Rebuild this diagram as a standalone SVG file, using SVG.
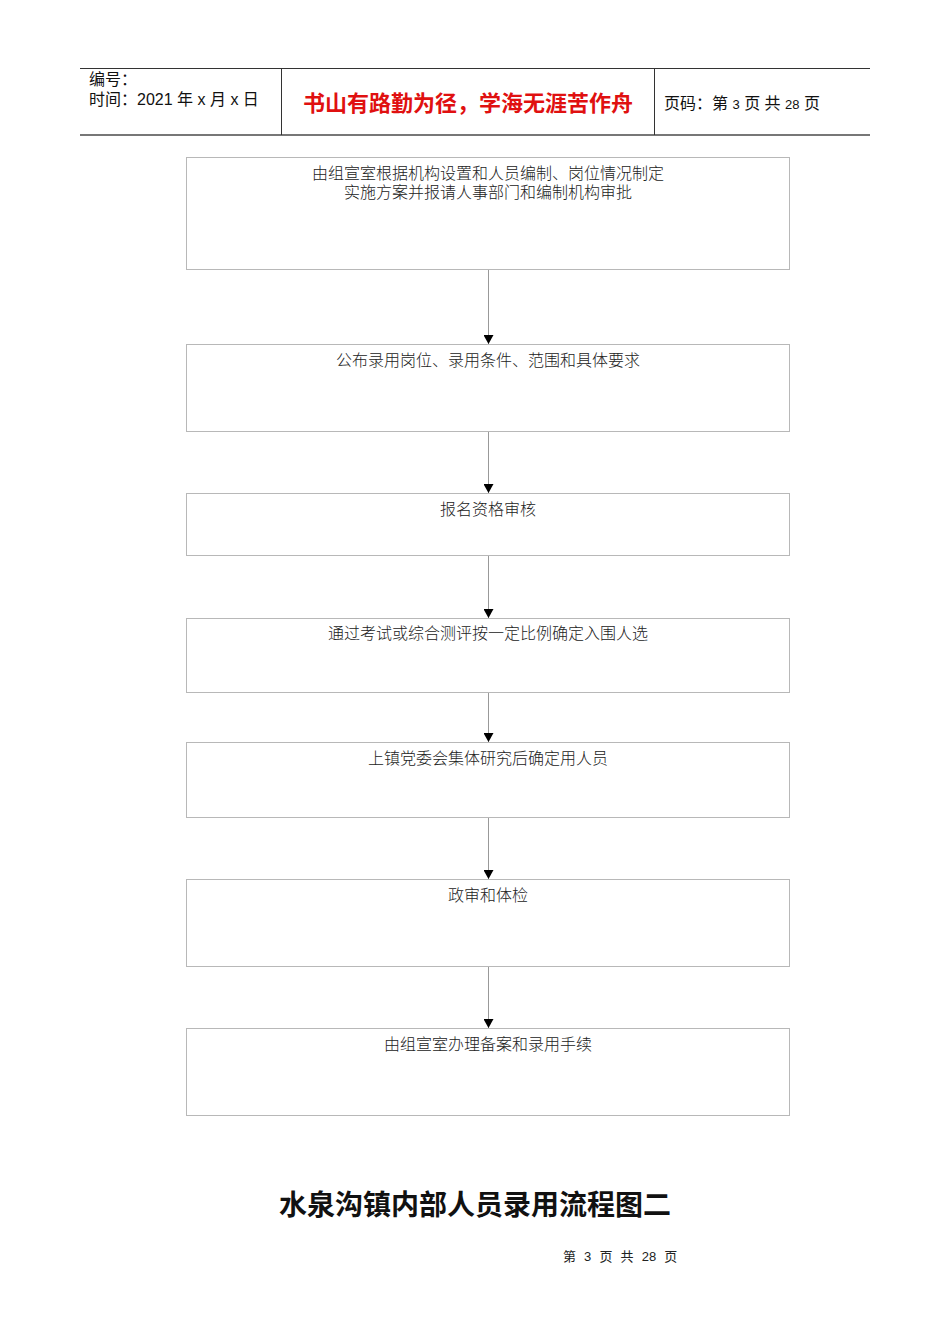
<svg xmlns="http://www.w3.org/2000/svg" width="950" height="1344" viewBox="0 0 950 1344">
<style>
.box{fill:#fff;stroke:#b8b8b8;stroke-width:1}
.t{font-family:"Liberation Serif","Noto Sans CJK SC",serif;font-size:16px;font-weight:300;fill:#222;text-anchor:middle}
.h{font-family:"Liberation Sans","Noto Sans CJK SC",sans-serif;font-size:16px;fill:#111}
.c{stroke:#999;stroke-width:1;fill:none}
</style>
<defs>
<marker id="ah" markerWidth="10" markerHeight="10" refX="9" refY="5" orient="auto" markerUnits="userSpaceOnUse">
<path d="M0,0 L9,5 L0,10 Z" fill="#000"/>
</marker>
</defs>
<rect width="950" height="1344" fill="#fff"/>
<g id="header">
<line x1="80" y1="68.5" x2="870" y2="68.5" stroke="#333" stroke-width="1"/>
<line x1="80" y1="135" x2="870" y2="135" stroke="#777" stroke-width="2"/>
<line x1="281.5" y1="68" x2="281.5" y2="135" stroke="#333" stroke-width="1"/>
<line x1="654.5" y1="68" x2="654.5" y2="135" stroke="#333" stroke-width="1"/>
<text class="h" x="89" y="85">编号：</text>
<text class="h" x="89" y="105">时间：2021 年 x 月 x 日</text>
<text x="468" y="111" text-anchor="middle" font-family="Liberation Sans,'Noto Sans CJK SC',sans-serif" font-size="22" font-weight="bold" fill="#e01010">书山有路勤为径，学海无涯苦作舟</text>
<text class="h" x="664" y="109">页码：第 <tspan font-size="13">3</tspan> 页  共 <tspan font-size="13">28</tspan> 页</text>
</g>
<g id="connectors">
<line class="c" x1="488.5" y1="269" x2="488.5" y2="344" marker-end="url(#ah)"/>
<line class="c" x1="488.5" y1="431" x2="488.5" y2="493" marker-end="url(#ah)"/>
<line class="c" x1="488.5" y1="555" x2="488.5" y2="618" marker-end="url(#ah)"/>
<line class="c" x1="488.5" y1="692" x2="488.5" y2="742" marker-end="url(#ah)"/>
<line class="c" x1="488.5" y1="817" x2="488.5" y2="879" marker-end="url(#ah)"/>
<line class="c" x1="488.5" y1="966" x2="488.5" y2="1028" marker-end="url(#ah)"/>
</g>
<g id="n1"><rect class="box" x="186.5" y="157.5" width="603" height="112"/>
<text class="t" x="488" y="179">由组宣室根据机构设置和人员编制、岗位情况制定</text>
<text class="t" x="488" y="198">实施方案并报请人事部门和编制机构审批</text></g>
<g id="n2"><rect class="box" x="186.5" y="344.5" width="603" height="87"/>
<text class="t" x="488" y="366">公布录用岗位、录用条件、范围和具体要求</text></g>
<g id="n3"><rect class="box" x="186.5" y="493.5" width="603" height="62"/>
<text class="t" x="488" y="515">报名资格审核</text></g>
<g id="n4"><rect class="box" x="186.5" y="618.5" width="603" height="74"/>
<text class="t" x="488" y="639">通过考试或综合测评按一定比例确定入围人选</text></g>
<g id="n5"><rect class="box" x="186.5" y="742.5" width="603" height="75"/>
<text class="t" x="488" y="764">上镇党委会集体研究后确定用人员</text></g>
<g id="n6"><rect class="box" x="186.5" y="879.5" width="603" height="87"/>
<text class="t" x="488" y="901">政审和体检</text></g>
<g id="n7"><rect class="box" x="186.5" y="1028.5" width="603" height="87"/>
<text class="t" x="488" y="1050">由组宣室办理备案和录用手续</text></g>
<g id="title">
<text x="475" y="1215" text-anchor="middle" font-family="Liberation Sans,'Noto Sans CJK SC',sans-serif" font-size="28" font-weight="bold" fill="#111">水泉沟镇内部人员录用流程图二</text>
<text x="563" y="1261" font-family="Liberation Sans,'Noto Sans CJK SC',sans-serif" font-size="13" word-spacing="4.5" fill="#222">第 3 页 共 28 页</text>
</g>
</svg>
